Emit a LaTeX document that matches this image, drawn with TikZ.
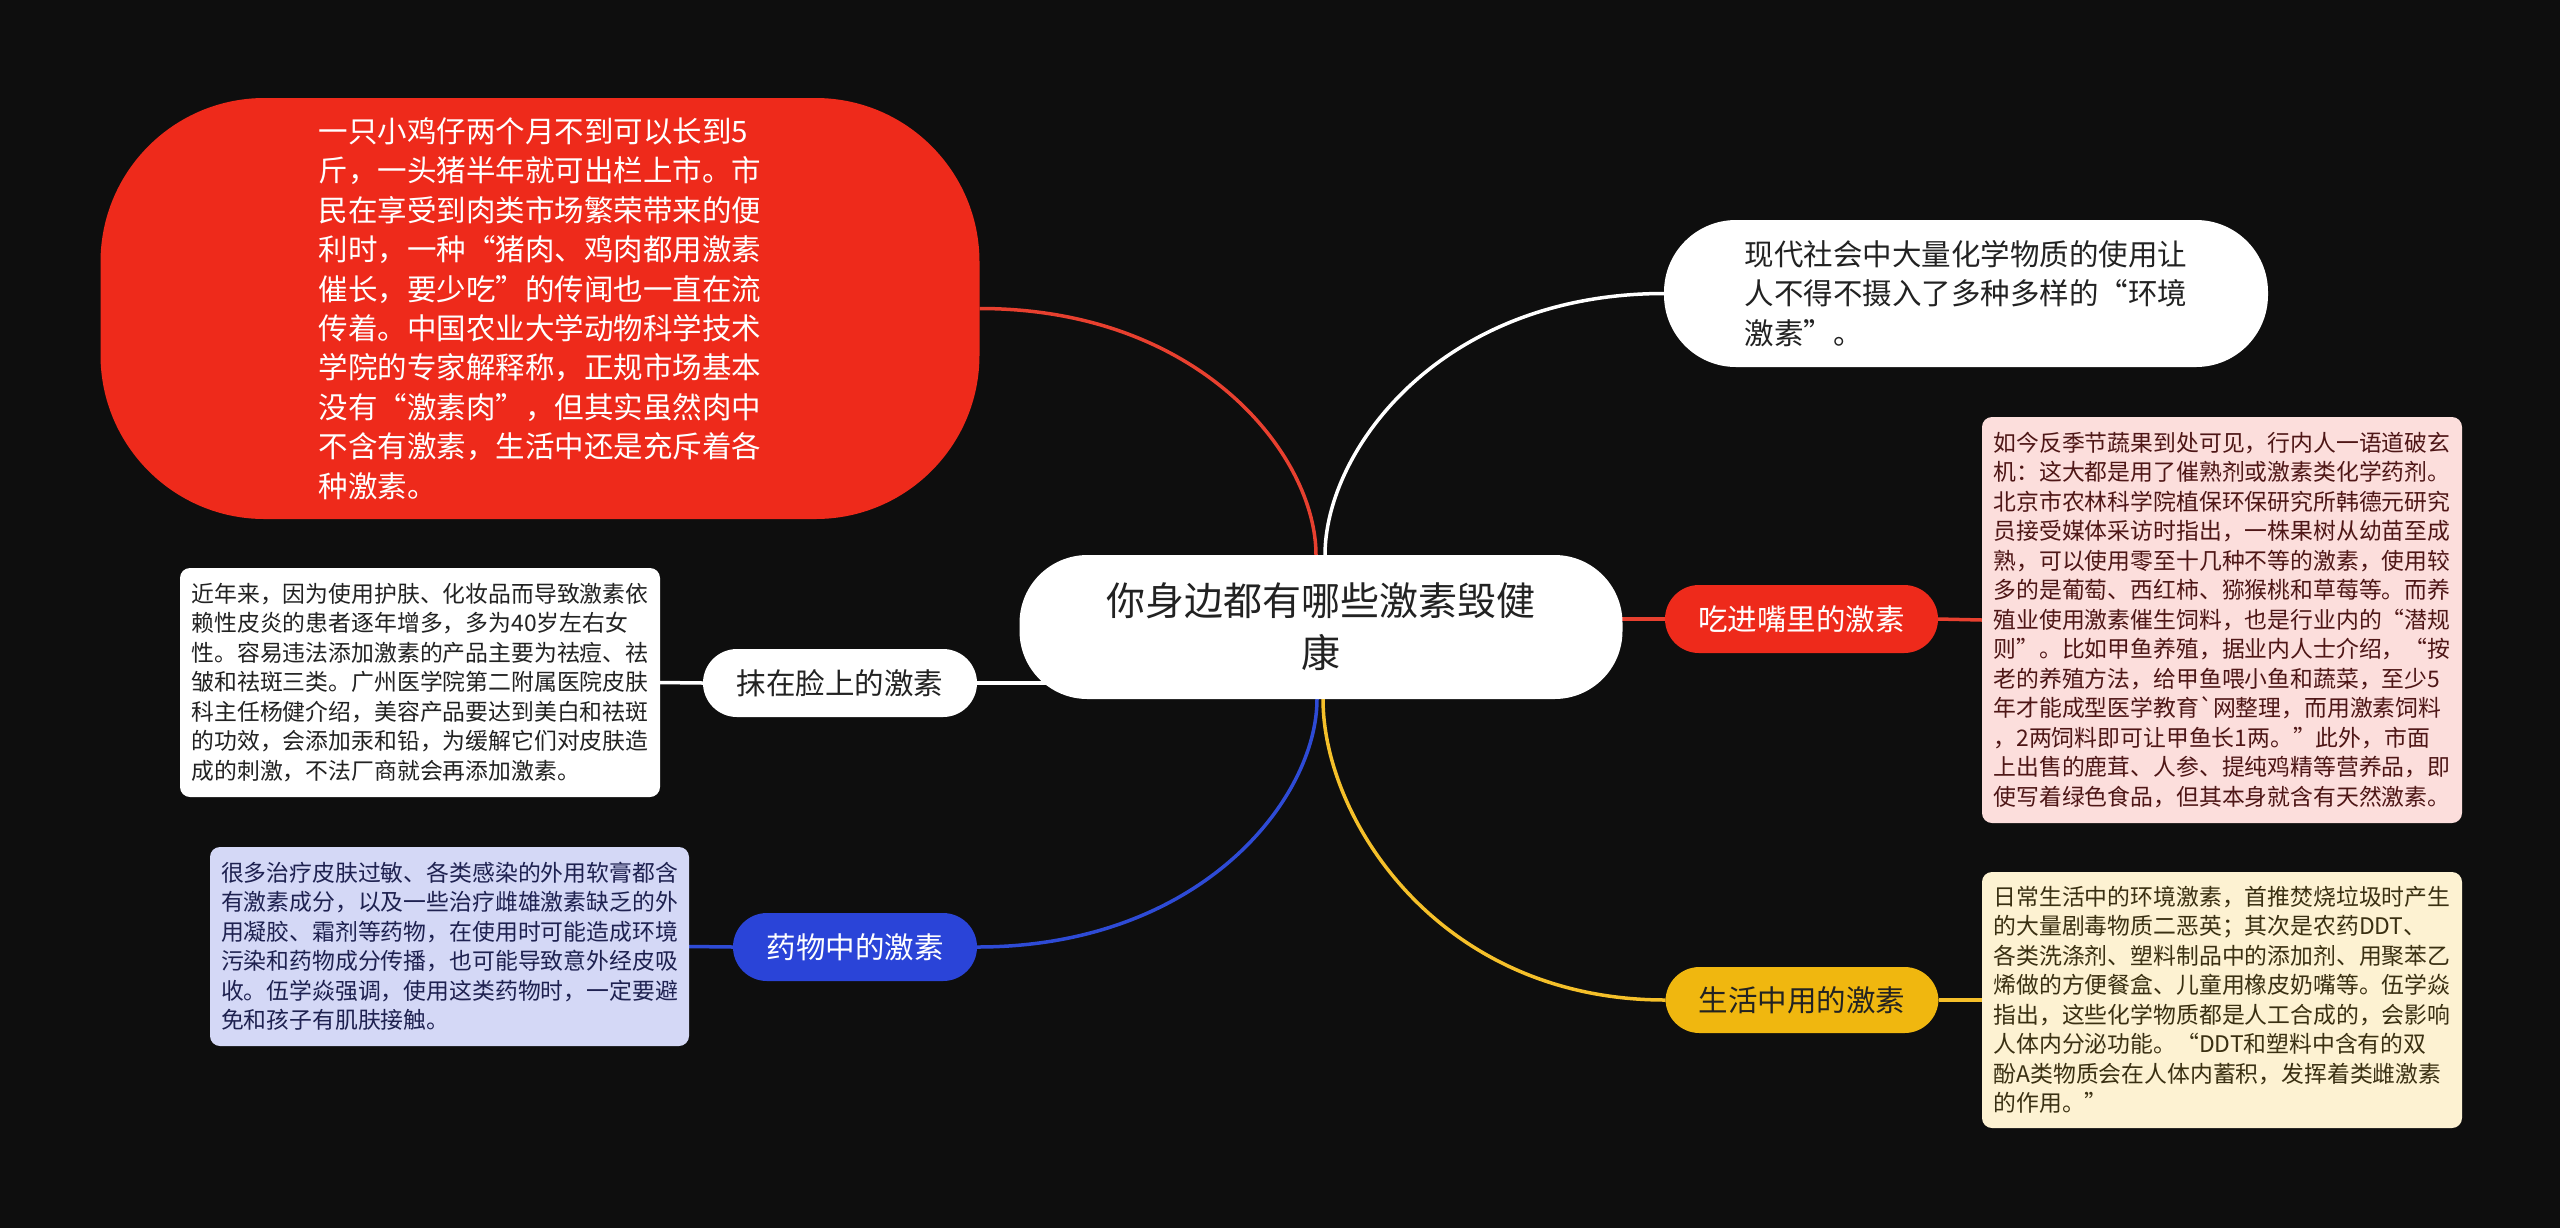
\documentclass[tikz,border=0pt]{standalone}
\usepackage{fontspec}
\newfontfamily\cjk{Noto Sans CJK SC}[Ligatures=TeXOff]
\usetikzlibrary{calc}
\pgfdeclarelayer{back}
\pgfdeclarelayer{lines}
\pgfsetlayers{back,lines,main}
\definecolor{bgc}{HTML}{0E0E0E}
\definecolor{mmred}{HTML}{EE2A1B}
\definecolor{mmredline}{HTML}{E8402F}
\definecolor{mmblue}{HTML}{2A44D8}
\definecolor{mmblueline}{HTML}{2E4BD6}
\definecolor{mmyellow}{HTML}{F0B70F}
\definecolor{mmyellowline}{HTML}{F5C02A}
\definecolor{txtdark}{HTML}{222222}
\definecolor{pinkfill}{HTML}{FCDEDC}
\definecolor{pinktext}{HTML}{4E1616}
\definecolor{creamfill}{HTML}{FDF2D2}
\definecolor{creamtext}{HTML}{3A3012}
\definecolor{lavfill}{HTML}{D4D8F6}
\definecolor{lavtext}{HTML}{1E2150}
\newcommand\mmcurve[3]{\draw[#1] (#2) .. controls ($(#2)!0.4!(#2|-#3)$) and ($(#3)!0.66!(#2|-#3)$) .. (#3);}
\begin{document}
\begin{tikzpicture}[x=0.5pt,y=-0.5pt,
  every node/.style={inner sep=0pt, outer sep=0pt},
  central/.style={fill=white, rounded corners=34pt, minimum width=301.5pt, minimum height=72pt,
    align=center, text=txtdark, font=\cjk\fontsize{19.5pt}{26pt}\selectfont},
  bigtext/.style={align=left, font=\cjk\fontsize{14.75pt}{19.7pt}\selectfont},
  pill/.style={rounded corners=17pt, minimum height=34pt, align=center,
    font=\cjk\fontsize{14.75pt}{18pt}\selectfont},
  detail/.style={rounded corners=5pt, minimum width=240pt, align=left,
    font=\cjk\fontsize{11.42pt}{14.75pt}\selectfont},
  conn/.style={line width=1.75pt}
]
\begin{pgfonlayer}{back}
\fill[bgc] (0,0) rectangle (2560,1228);
\end{pgfonlayer}
\useasboundingbox (0,0) rectangle (2560,1228);

% central
\node[central] (c) at (1321,627) {你身边都有哪些激素毁健\\康};

% top-left red blob
\node[bigtext, fill=mmred, text=white, rounded corners=82pt, minimum width=439.5pt, minimum height=210.5pt] (r) at (540,308.5)
{一只小鸡仔两个月不到可以长到5\\斤，一头猪半年就可出栏上市。市\\民在享受到肉类市场繁荣带来的便\\利时，一种“猪肉、鸡肉都用激素\\催长，要少吃”的传闻也一直在流\\传着。中国农业大学动物科学技术\\学院的专家解释称，正规市场基本\\没有“激素肉”，但其实虽然肉中\\不含有激素，生活中还是充斥着各\\种激素。};

% top-right white blob
\node[bigtext, fill=white, text=txtdark, rounded corners=36pt, minimum width=302pt, minimum height=73.5pt] (w) at (1966,293.5)
{现代社会中大量化学物质的使用让\\人不得不摄入了多种多样的“环境\\激素”。};

% pills
\node[pill, fill=mmred, text=white, minimum width=136.5pt] (eat) at (1801.5,619) {吃进嘴里的激素};
\node[pill, fill=mmyellow, text=txtdark, minimum width=136.5pt, minimum height=33pt] (life) at (1802,1000) {生活中用的激素};
\node[pill, fill=white, text=txtdark, minimum width=137pt] (face) at (840,683) {抹在脸上的激素};
\node[pill, fill=mmblue, text=white, minimum width=122pt] (drug) at (855,947) {药物中的激素};

% detail boxes
\node[detail, fill=pinkfill, text=pinktext, minimum height=203pt] (pink) at (2222,620)
{如今反季节蔬果到处可见，行内人一语道破玄\\机：这大都是用了催熟剂或激素类化学药剂。\\北京市农林科学院植保环保研究所韩德元研究\\员接受媒体采访时指出，一株果树从幼苗至成\\熟，可以使用零至十几种不等的激素，使用较\\多的是葡萄、西红柿、猕猴桃和草莓等。而养\\殖业使用激素催生饲料，也是行业内的“潜规\\则”。比如甲鱼养殖，据业内人士介绍，“按\\老的养殖方法，给甲鱼喂小鱼和蔬菜，至少5\\年才能成型医学教育`网整理，而用激素饲料\\，2两饲料即可让甲鱼长1两。”此外，市面\\上出售的鹿茸、人参、提纯鸡精等营养品，即\\使写着绿色食品，但其本身就含有天然激素。};

\node[detail, fill=creamfill, text=creamtext, minimum height=128pt] (cream) at (2222,1000)
{日常生活中的环境激素，首推焚烧垃圾时产生\\的大量剧毒物质二恶英；其次是农药DDT、\\各类洗涤剂、塑料制品中的添加剂、用聚苯乙\\烯做的方便餐盒、儿童用橡皮奶嘴等。伍学焱\\指出，这些化学物质都是人工合成的，会影响\\人体内分泌功能。“DDT和塑料中含有的双\\酚A类物质会在人体内蓄积，发挥着类雌激素\\的作用。”};

\node[detail, fill=white, text=txtdark, minimum height=114.5pt] (wbox) at (420,682.5)
{近年来，因为使用护肤、化妆品而导致激素依\\赖性皮炎的患者逐年增多，多为40岁左右女\\性。容易违法添加激素的产品主要为祛痘、祛\\皱和祛斑三类。广州医学院第二附属医院皮肤\\科主任杨健介绍，美容产品要达到美白和祛斑\\的功效，会添加汞和铅，为缓解它们对皮肤造\\成的刺激，不法厂商就会再添加激素。};

\node[detail, fill=lavfill, text=lavtext, minimum width=239.5pt, minimum height=99.5pt] (lav) at (449.5,946.5)
{很多治疗皮肤过敏、各类感染的外用软膏都含\\有激素成分，以及一些治疗雌雄激素缺乏的外\\用凝胶、霜剂等药物，在使用时可能造成环境\\污染和药物成分传播，也可能导致意外经皮吸\\收。伍学焱强调，使用这类药物时，一定要避\\免和孩子有肌肤接触。};

% connectors
\begin{pgfonlayer}{lines}
\coordinate (cTL) at ([xshift=-2.5pt]c.north);
\coordinate (cTR) at ([xshift=2pt]c.north);
\coordinate (cBL) at ([xshift=-2pt]c.south);
\coordinate (cBR) at ([xshift=1pt]c.south);
\mmcurve{conn, mmredline}{cTL}{r.east}
\mmcurve{conn, white}{cTR}{w.west}
\mmcurve{conn, mmyellowline}{cBR}{life.west}
\mmcurve{conn, mmblueline}{cBL}{drug.east}
\draw[conn, mmredline] (eat.west) -- (eat.west -| c.center);
\draw[conn, mmredline] (eat.east) -- (pink.west);
\draw[conn, white] (face.east) -- (face.east -| c.center);
\draw[conn, white] (face.west) -- (wbox.east);
\draw[conn, mmblueline] (drug.west) -- (lav.east);
\draw[conn, mmyellowline] (life.east) -- (cream.west);
\end{pgfonlayer}
\end{tikzpicture}
\end{document}
